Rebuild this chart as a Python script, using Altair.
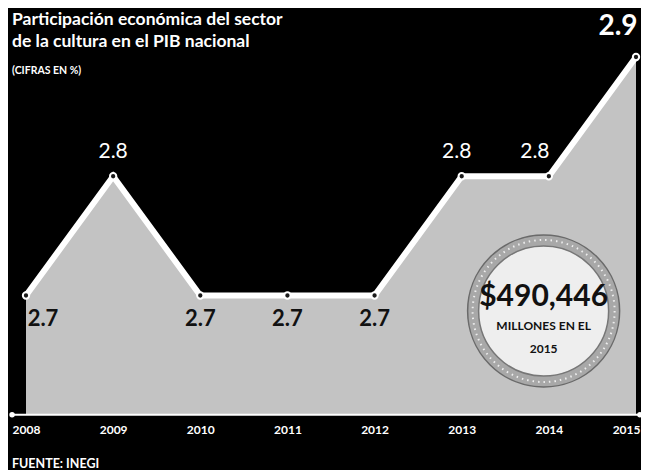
import altair as alt
import pandas as pd

# ---- data ----
years = [2008, 2009, 2010, 2011, 2012, 2013, 2014, 2015]
values = [2.7, 2.8, 2.7, 2.7, 2.7, 2.8, 2.8, 2.9]
labels = ["2.7", "2.8", "2.7", "2.7", "2.7", "2.8", "2.8", "2.9"]

title_lines = ["Participación económica del sector", "de la cultura en el PIB nacional"]
subtitle = "(CIFRAS EN %)"
source = "FUENTE: INEGI"
badge_lines = ["$490,446", "MILLONES EN EL", "2015"]
badge_year = 2013.94
badge_value = 2.687
base_value = 2.6
axis_ends = [2007.84, 2015.045]

df = pd.DataFrame({"year": years, "value": values, "label": labels})

FONT = "Lato"
xs = alt.Scale(domain=[2008, 2015], range=[18, 628])
ys = alt.Scale(domain=[2.6, 2.9], range=[406.75, 49])
xaxis = alt.Axis(
    values=years, format="d", offset=-57, domain=False, ticks=False,
    grid=False, labelColor="white", labelFont=FONT, labelFontWeight="bold",
    labelFontSize=12, labelPadding=11, labelFlush=False, title=None,
    labelAlign=alt.condition("datum.value == 2015", alt.value("right"), alt.value("center")),
    labelOffset=alt.condition("datum.value == 2015", alt.value(4), alt.value(0)),
)
X = alt.X("year:Q", scale=xs, axis=xaxis)
Y = alt.Y("value:Q", scale=ys, axis=None)

base = alt.Chart(df)

area = base.mark_area(color="#c3c3c3").encode(x=X, y=Y, y2=alt.Y2(datum=base_value))
line = base.mark_line(color="white", strokeWidth=6).encode(x=X, y=Y)
pts = base.mark_circle(color="#1a1a1a", stroke="white", strokeWidth=2, size=40,
                       opacity=1).encode(x=X, y=Y)

# axis line with end dots
ends_df = pd.DataFrame({"year": axis_ends, "value": [base_value, base_value]})
axis_line = alt.Chart(ends_df).mark_line(color="white", strokeWidth=2).encode(x=X, y=Y)
axis_dots = alt.Chart(ends_df).mark_circle(color="white", size=30, opacity=1).encode(x=X, y=Y)


def lab(expr, dx, dy, size, color, weight="bold"):
    return base.transform_filter(expr).mark_text(
        dx=dx, dy=dy, fontSize=size, color=color, font=FONT, fontWeight=weight,
        baseline="middle", align="center"
    ).encode(x=X, y=Y, text="label:N")


labs = [
    lab("datum.year == 2008", 17, 23, 22, "#111111"),
    lab("datum.year >= 2010 && datum.year <= 2012", 0, 23, 22, "#111111"),
    lab("datum.year == 2009", 0, -24, 21, "white", "normal"),
    lab("datum.year == 2013", -5, -24, 21, "white", "normal"),
    lab("datum.year == 2014", -14, -24, 21, "white", "normal"),
    lab("datum.year == 2015", -18, -30, 28, "white", "bold"),
]

# badge
bx = alt.X(datum=badge_year, scale=xs, axis=xaxis)
by = alt.Y(datum=badge_value, scale=ys, axis=None)
one = alt.Chart(pd.DataFrame({"k": [0]}))
ring = one.mark_point(shape="circle", filled=True, fill="#a8a8a8", stroke="#6a6a6a",
                      strokeWidth=1.5, size=152 ** 2, opacity=1).encode(x=bx, y=by)
ring_dots = one.mark_point(shape="circle", filled=False, stroke="#eeeeee", strokeWidth=2,
                           strokeDash=[1.5, 4], size=142 ** 2, opacity=1).encode(x=bx, y=by)
inner = one.mark_point(shape="circle", filled=True, fill="#eeeeee", stroke="#777777",
                       strokeWidth=1.5, size=130 ** 2, opacity=1).encode(x=bx, y=by)
b1 = alt.Chart(pd.DataFrame({"t": [badge_lines[0]]})).mark_text(
    font=FONT, fontWeight="bold", fontSize=30, color="#111111", dy=-14).encode(x=bx, y=by, text="t:N")
b2 = alt.Chart(pd.DataFrame({"t": [badge_lines[1]]})).mark_text(
    font=FONT, fontWeight="bold", fontSize=12, color="#111111", dy=15).encode(x=bx, y=by, text="t:N")
b3 = alt.Chart(pd.DataFrame({"t": [badge_lines[2]]})).mark_text(
    font=FONT, fontWeight="bold", fontSize=12, color="#111111", dy=38).encode(x=bx, y=by, text="t:N")

# titles / footer
def txt(s, x, y, size):
    return alt.Chart(pd.DataFrame({"t": [s]})).mark_text(
        align="left", baseline="alphabetic", font=FONT, fontWeight="bold",
        fontSize=size, color="white"
    ).encode(x=alt.value(x), y=alt.value(y), text="t:N")

t1 = txt(title_lines[0], 4, 17, 17.5)
t2 = txt(title_lines[1], 4, 39, 17.5)
t3 = txt(subtitle, 4, 66, 10.5)
foot = txt(source, 4, 460, 12.5)

chart = alt.layer(
    area, line, axis_line, axis_dots, pts, *labs,
    ring, ring_dots, inner, b1, b2, b3, t1, t2, t3, foot
).properties(
    width=633, height=462,
    autosize=alt.AutoSizeParams(type="none"),
    padding=0,
    background="black",
).configure_view(stroke=None)

chart.save("out.html", embed_options={"renderer": "svg", "actions": False})
